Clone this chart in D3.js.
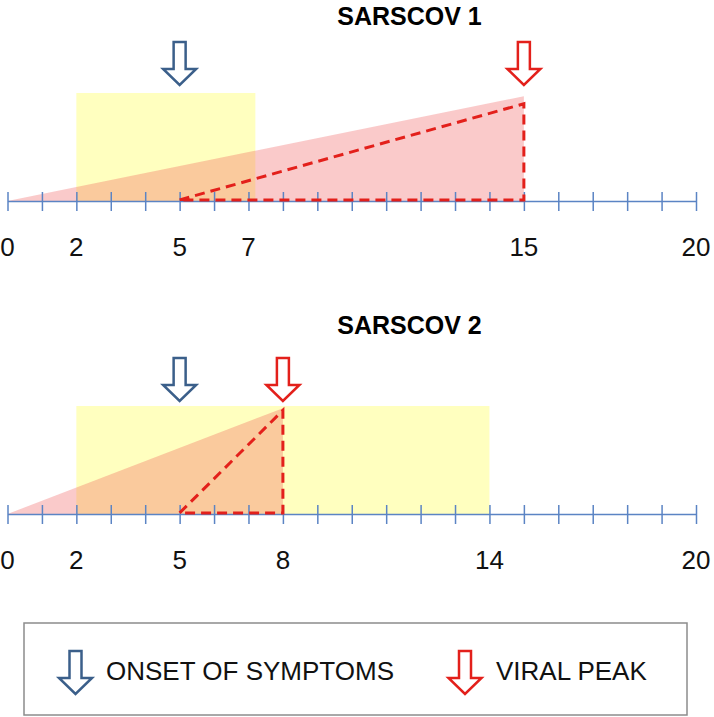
<!DOCTYPE html>
<html>
<head>
<meta charset="utf-8">
<script src="https://cdn.jsdelivr.net/npm/d3@7"></script>
<style>
  html, body { margin: 0; padding: 0; background: #fff; }
  svg { display: block; font-family: "Liberation Sans", Arial, sans-serif; }
</style>
</head>
<body>
<svg id="chart" width="714" height="717"></svg>
<script>
// ---- data ----
const panelTitles   = ["SARSCOV 1", "SARSCOV 2"];
const onsetDay      = [5, 5];          // onset of symptoms (blue arrow)
const peakDay       = [15, 8];         // viral peak (red arrow)
const sheddingStart = [0, 0];          // start of viral load ramp
const windowStart   = [2, 2];          // yellow window start
const windowEnd     = [7.2, 14];       // yellow window end
const peakLevel     = [0.97, 0.98];    // relative viral load at peak (pink triangle)
const dashedLevel   = [0.90, 0.96];    // relative level of dashed triangle apex
const tickLabels    = [[0, 2, 5, 7, 15, 20], [0, 2, 5, 8, 14, 20]];
const legendLabels  = ["ONSET OF SYMPTOMS", "VIRAL PEAK"];
const dayDomain     = [0, 20];

// ---- layout ----
const svg = d3.select("#chart");
const x = d3.scaleLinear().domain(dayDomain).range([7.5, 696]);
const axisY   = [201, 514];
const titleY  = [25, 334];
const arrowTop = [42, 358];
const blue = "#3b5f8a", red = "#e3201b", axisCol = "#5b84c4";

function arrowPath(cx, top) {
  const sw = 6, hw = 16.5, hs = 27, h = 43;
  return `M${cx - sw},${top} L${cx + sw},${top} L${cx + sw},${top + hs} L${cx + hw},${top + hs} L${cx},${top + h} L${cx - hw},${top + hs} L${cx - sw},${top + hs} Z`;
}

panelTitles.forEach((title, i) => {
  const y = d3.scaleLinear().domain([0, 1]).range([axisY[i], axisY[i] - 108]);
  const g = svg.append("g");

  // yellow window
  g.append("rect")
    .attr("x", x(windowStart[i]))
    .attr("y", y(1))
    .attr("width", x(windowEnd[i]) - x(windowStart[i]))
    .attr("height", y(0) - y(1))
    .attr("fill", "#ffffbf");

  // pink viral load triangle
  const tri = [[sheddingStart[i], 0], [peakDay[i], peakLevel[i]], [peakDay[i], 0]];
  g.append("path")
    .attr("d", d3.line().x(d => x(d[0])).y(d => y(d[1]))(tri) + "Z")
    .attr("fill", "rgba(240,80,80,0.3)");

  // axis
  const ax = g.append("g")
    .attr("transform", `translate(0,${axisY[i]})`)
    .call(d3.axisBottom(x).ticks(20).tickSize(19).tickSizeOuter(0).tickFormat(""));
  ax.select(".domain").attr("stroke", axisCol).attr("stroke-width", 1.5);
  ax.selectAll(".tick line").attr("y1", -9).attr("y2", 10).attr("stroke", axisCol).attr("stroke-width", 1.5);

  // dashed triangle
  const dtri = [[onsetDay[i], 0.01], [peakDay[i], dashedLevel[i]], [peakDay[i], 0.01]];
  g.append("path")
    .attr("d", d3.line().x(d => x(d[0])).y(d => y(d[1]))(dtri) + "Z")
    .attr("fill", "none")
    .attr("stroke", red)
    .attr("stroke-width", 3)
    .attr("stroke-dasharray", "10,6");

  // tick labels
  g.selectAll("text.tl").data(tickLabels[i]).join("text")
    .attr("class", "tl")
    .attr("x", d => x(d))
    .attr("y", axisY[i] + 55)
    .attr("text-anchor", "middle")
    .attr("font-size", 26)
    .attr("fill", "#111")
    .text(d => d);

  // title
  g.append("text")
    .attr("x", 409.5).attr("y", titleY[i])
    .attr("text-anchor", "middle")
    .attr("font-size", 25).attr("font-weight", "bold")
    .attr("fill", "#000")
    .text(title);

  // arrows
  g.append("path").attr("d", arrowPath(x(onsetDay[i]), arrowTop[i]))
    .attr("fill", "#fff").attr("stroke", blue).attr("stroke-width", 2.5);
  g.append("path").attr("d", arrowPath(x(peakDay[i]), arrowTop[i]))
    .attr("fill", "#fff").attr("stroke", red).attr("stroke-width", 2.5);
});

// legend
const lg = svg.append("g");
lg.append("rect").attr("x", 24).attr("y", 623).attr("width", 663).attr("height", 92)
  .attr("fill", "#fff").attr("stroke", "#8c8c8c").attr("stroke-width", 1.5);
const legendItems = [
  { label: legendLabels[0], color: blue, ax: 75.5, tx: 106 },
  { label: legendLabels[1], color: red, ax: 465, tx: 496 }
];
legendItems.forEach(it => {
  lg.append("path").attr("d", arrowPath(it.ax, 651))
    .attr("fill", "#fff").attr("stroke", it.color).attr("stroke-width", 2.5);
  lg.append("text").attr("x", it.tx).attr("y", 680)
    .attr("font-size", 26).attr("fill", "#111").text(it.label);
});
</script>
</body>
</html>
